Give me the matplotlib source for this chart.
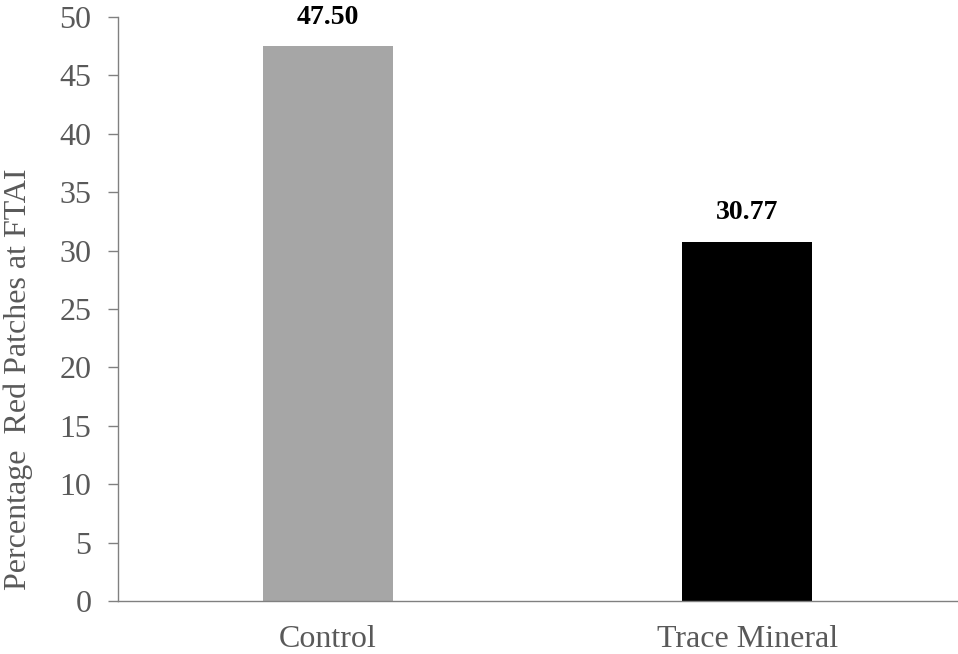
import matplotlib.pyplot as plt

groups = ["Control", "Trace Mineral"]
pct_red = [47.50, 30.77]
bar_colors = ["#A6A6A6", "#000000"]

plt.rcParams["font.family"] = ["Liberation Serif", "DejaVu Serif"]

fig = plt.figure(figsize=(9.58, 6.54), dpi=100)
ax = fig.add_axes([0.1232, 0.081, 0.8758, 0.893])

x = range(len(groups))
bars = ax.bar(x, pct_red, width=0.31, color=bar_colors)

for b, v in zip(bars, pct_red):
    ax.annotate(f"{v:.2f}", (b.get_x() + b.get_width() / 2, v),
                xytext=(0, 12), textcoords="offset points",
                ha="center", va="bottom", fontsize=20, fontweight="bold",
                color="black")

ax.set_xlim(-0.5, 1.5)
ax.set_ylim(0, 50)
ax.set_yticks(range(0, 51, 5))
ax.set_xticks(list(x))
ax.set_xticklabels(groups)
ax.set_ylabel("Percentage  Red Patches at FTAI", fontsize=23, color="#595959")
ax.yaxis.set_label_coords(-0.1015, 0.38)

ax.tick_params(axis="y", direction="out", length=7.2, width=1, color="#808080",
               labelsize=23, labelcolor="#595959", pad=12)
ax.tick_params(axis="x", length=0, labelsize=23, labelcolor="#595959", pad=17)

for s in ["top", "right"]:
    ax.spines[s].set_visible(False)
for s in ["left", "bottom"]:
    ax.spines[s].set_color("#808080")
    ax.spines[s].set_linewidth(1)

fig.savefig("out.png", dpi=100)
